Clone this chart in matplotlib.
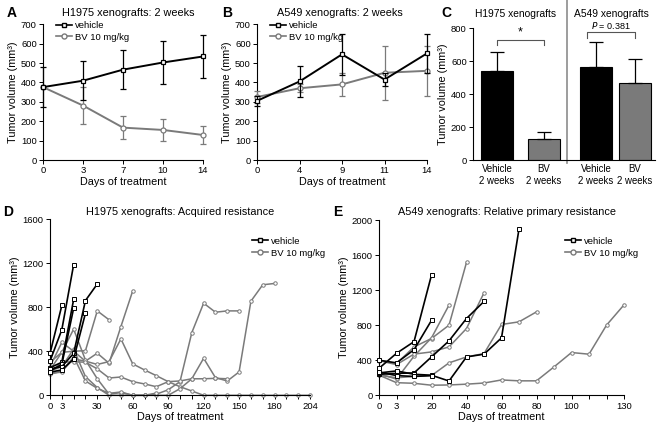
import numpy as np
import matplotlib
matplotlib.use("Agg")
import matplotlib.pyplot as plt
from matplotlib.lines import Line2D

plt.rcParams['font.family'] = ['Liberation Sans', 'DejaVu Sans']

W, H = 666, 434
BLACK = '#000000'
GRAY = '#7a7a7a'
FT = 7.8    # titles / axis labels
FK = 6.8    # tick labels / legends

# ---------------- data ----------------
# Panel A (H1975, 2 weeks)
a_days = ['0', '3', '7', '10', '14']
a_veh = [376, 409, 466, 503, 534]
a_veh_err = [105, 100, 102, 112, 111]
a_bv = [376, 281, 167, 155, 129]
a_bv_err = [0, 97, 60, 57, 45]

# Panel B (A549, 2 weeks)
b_days = ['0', '4', '9', '11', '14']
b_veh = [305, 405, 545, 415, 550]
b_veh_err = [25, 80, 105, 35, 100]
b_bv = [325, 370, 390, 450, 460]
b_bv_err = [30, 20, 60, 140, 128]

# Panel C
c_labels = ['Vehicle\n2 weeks', 'BV\n2 weeks', 'Vehicle\n2 weeks', 'BV\n2 weeks']
c_values = [540, 125, 565, 470]
c_err = [118, 43, 153, 143]
c_groups = ['H1975 xenografts', 'A549 xenografts']
c_pvals = ['*', '$P$ = 0.381']

# Panel D (H1975 acquired resistance) - measurement days (categorical axis)
d_days = [0, 3, 10, 20, 30, 40, 50, 60, 70, 80, 90, 100, 110, 120, 130, 140,
          150, 160, 170, 180, 190, 200, 204]
d_tick_labels = ['0', '3', '30', '60', '90', '120', '150', '180', '204']
d_veh = [
    [380, 815],
    [310, 595, 1185],
    [250, 300, 870],
    [220, 280, 790],
    [240, 260, 380, 860, 1010],
    [210, 230, 330, 745],
]
d_bv = [
    [190, 220, 330, 310, 382, 291, 624, 948],
    [230, 390, 400, 310, 280, 306, 512, 285, 230, 178, 124, 78, 39, 0, 0, 0,
     0, 0, 0, 0, 0, 0, 0],
    [260, 480, 400, 405, 766, 685],
    [300, 390, 600, 320, 150, 10, 25, 0, 0, 10, 50, 124, 569, 836, 754, 766, 766],
    [220, 260, 420, 170, 70, 0, 0, 0, 0, 0, 0, 60, 150, 336, 160, 130, 212,
     854, 1003, 1015],
    [210, 300, 305, 300, 240, 157, 166, 124, 103, 78, 124, 130, 150, 150, 154, 150],
    [200, 210, 350, 130, 63, 18, 30, 0, 0, 20],
]

# Panel E (A549 relative primary resistance)
e_days = [0, 3, 10, 20, 30, 40, 50, 60, 70, 80, 90, 100, 110, 120, 130]
e_tick_labels = ['0', '3', '20', '40', '60', '80', '100', '130']
e_veh = [
    [308, 479, 612, 1372],
    [400, 370, 520, 855],
    [240, 250, 255, 438, 621, 876, 1071],
    [255, 278, 240, 229, 163, 438, 469, 655, 1897],
    [265, 225, 215, 225],
]
e_bv = [
    [400, 362, 552, 648, 800, 1516],
    [245, 185, 446, 655, 1029],
    [230, 200, 215, 225, 370, 438, 476, 808, 838, 952],
    [395, 350, 470, 495, 552, 762, 1169],
    [230, 144, 137, 115, 118, 127, 140, 175, 165, 165, 324, 488, 469, 800, 1032],
]

# ---------------- helpers ----------------
fig = plt.figure(figsize=(W / 100, H / 100), dpi=100)


def add_ax(x0, x1, ytop, ybot):
    return fig.add_axes([x0 / W, 1 - ybot / H, (x1 - x0) / W, (ybot - ytop) / H])


def style(ax):
    for s in ['top', 'right']:
        ax.spines[s].set_visible(False)
    for s in ['left', 'bottom']:
        ax.spines[s].set_linewidth(0.8)
    ax.tick_params(direction='out', length=3, width=0.7, labelsize=FK, pad=1.5)


def fig_text(x, y, s, **kw):
    fig.text(x / W, 1 - y / H, s, **kw)


YLAB = 'Tumor volume (mm³)'


def make_handles(ms_s=3.2, ms_o=3.6):
    return [Line2D([], [], color=BLACK, lw=1.2, marker='s', ms=ms_s, mfc='white', mec=BLACK),
            Line2D([], [], color=GRAY, lw=1.2, marker='o', ms=ms_o, mfc='white', mec=GRAY)]


def two_week_panel(ax, days, veh, veh_err, bv, bv_err):
    x = np.arange(len(days))
    ax.errorbar(x, bv, yerr=bv_err, color=GRAY, lw=1.4, marker='o', ms=3.6,
                mfc='white', mec=GRAY, mew=0.9, capsize=2.5, elinewidth=0.9,
                clip_on=False, zorder=3)
    ax.errorbar(x, veh, yerr=veh_err, color=BLACK, lw=1.4, marker='s', ms=3.2,
                mfc='white', mec=BLACK, mew=0.9, capsize=2.5, elinewidth=0.9,
                clip_on=False, zorder=4)
    ax.set_xlim(0, len(days) - 1)
    ax.set_ylim(0, 700)
    ax.set_xticks(x)
    ax.set_xticklabels(days)
    ax.set_yticks(range(0, 701, 100))
    ax.set_xlabel('Days of treatment', fontsize=FT, labelpad=1)
    ax.set_ylabel(YLAB, fontsize=FT, labelpad=2)
    style(ax)
    ax.legend(make_handles(), ['vehicle', 'BV 10 mg/kg'], loc='upper left',
              bbox_to_anchor=(0.05, 1.06), frameon=False, fontsize=FK,
              handlelength=1.7, handletextpad=0.3, labelspacing=0.3, borderpad=0)


# ---------------- Panel A ----------------
axA = add_ax(43, 203, 24.3, 160)
two_week_panel(axA, a_days, a_veh, a_veh_err, a_bv, a_bv_err)
fig_text(128, 13, 'H1975 xenografts: 2 weeks', fontsize=FT, ha='center', va='center')
fig_text(7, 13, 'A', fontsize=10, fontweight='bold', ha='left', va='center')

# ---------------- Panel B ----------------
axB = add_ax(257, 427, 24.3, 160)
two_week_panel(axB, b_days, b_veh, b_veh_err, b_bv, b_bv_err)
fig_text(340, 13, 'A549 xenografts: 2 weeks', fontsize=FT, ha='center', va='center')
fig_text(222, 13, 'B', fontsize=10, fontweight='bold', ha='left', va='center')

# ---------------- Panel C ----------------
axC = add_ax(473, 655, 28.3, 160)
c_pos = [0.53, 1.56, 2.70, 3.56]
c_cols = [BLACK, GRAY, BLACK, GRAY]
axC.bar(c_pos, c_values, width=0.70, color=c_cols, edgecolor=BLACK, linewidth=0.8)
axC.errorbar(c_pos, c_values, yerr=[[0] * 4, c_err], fmt='none', ecolor=BLACK,
             elinewidth=0.9, capsize=5, capthick=0.9)
axC.set_xlim(0, 4)
axC.set_ylim(0, 800)
axC.set_yticks(range(0, 801, 200))
axC.set_xticks(c_pos)
axC.set_xticklabels(c_labels)
axC.set_ylabel(YLAB, fontsize=FT, labelpad=2)
style(axC)
axC.tick_params(axis='x', length=0, labelsize=6.9, pad=3)
axC.plot([2.07, 2.07], [-0.02, 1.22], transform=axC.get_xaxis_transform(),
         color='#8c8c8c', lw=1.2, clip_on=False)
# brackets
axC.plot([c_pos[0], c_pos[0], c_pos[1], c_pos[1]], [698, 729, 729, 698], color='#555555', lw=0.8)
axC.text((c_pos[0] + c_pos[1]) / 2, 740, c_pvals[0], ha='center', va='bottom', fontsize=9)
axC.plot([2.50, 2.50, c_pos[3], c_pos[3]], [743, 775, 775, 743], color='#555555', lw=0.8,
         clip_on=False)
axC.text((2.50 + c_pos[3]) / 2, 785, c_pvals[1], ha='center', va='bottom', fontsize=6.5)
fig_text(516, 14, c_groups[0], fontsize=7.4, ha='center', va='center')
fig_text(611, 14, c_groups[1], fontsize=7.4, ha='center', va='center')
fig_text(441, 13, 'C', fontsize=10, fontweight='bold', ha='left', va='center')


# ---------------- Panels D / E ----------------
def spaghetti(ax, days, veh, bv, ylim, yticks, tick_labels):
    for s in bv:
        ax.plot(np.arange(len(s)), s, color=GRAY, lw=1.1, marker='o', ms=2.5,
                mfc='white', mec=GRAY, mew=0.7, clip_on=False, zorder=2)
    for s in veh:
        ax.plot(np.arange(len(s)), s, color=BLACK, lw=1.2, marker='s', ms=2.3,
                mfc='white', mec=BLACK, mew=0.7, clip_on=False, zorder=3)
    n = len(days)
    ax.set_xlim(0, n - 1)
    ax.set_ylim(*ylim)
    ax.set_yticks(yticks)
    ax.set_xticks(np.arange(n))
    labels = [str(d) if str(d) in tick_labels else '' for d in days]
    ax.set_xticklabels(labels)
    ax.set_xlabel('Days of treatment', fontsize=FT, labelpad=1)
    ax.set_ylabel(YLAB, fontsize=FT, labelpad=2)
    style(ax)


axD = add_ax(50, 310, 219, 395.3)
spaghetti(axD, d_days, d_veh, d_bv, (0, 1600), range(0, 1601, 400), d_tick_labels)
axD.legend(make_handles(), ['vehicle', 'BV 10 mg/kg'], loc='upper left',
           bbox_to_anchor=((247 - 50) / 260, (395.3 - 232) / 176.3), frameon=False, fontsize=FK,
           handlelength=1.7, handletextpad=0.3, labelspacing=0.3, borderpad=0)
fig_text(180, 212, 'H1975 xenografts: Acquired resistance', fontsize=FT, ha='center', va='center')
fig_text(3, 212, 'D', fontsize=10, fontweight='bold', ha='left', va='center')

axE = add_ax(379, 624, 220, 395.3)
spaghetti(axE, e_days, e_veh, e_bv, (0, 2000), range(0, 2001, 400), e_tick_labels)
axE.legend(make_handles(), ['vehicle', 'BV 10 mg/kg'], loc='upper left',
           bbox_to_anchor=((560 - 379) / 245, (395.3 - 232) / 175.3), frameon=False, fontsize=FK,
           handlelength=1.7, handletextpad=0.3, labelspacing=0.3, borderpad=0)
fig_text(507, 212, 'A549 xenografts: Relative primary resistance', fontsize=FT, ha='center', va='center')
fig_text(333, 212, 'E', fontsize=10, fontweight='bold', ha='left', va='center')

fig.savefig('out.png', dpi=100)
